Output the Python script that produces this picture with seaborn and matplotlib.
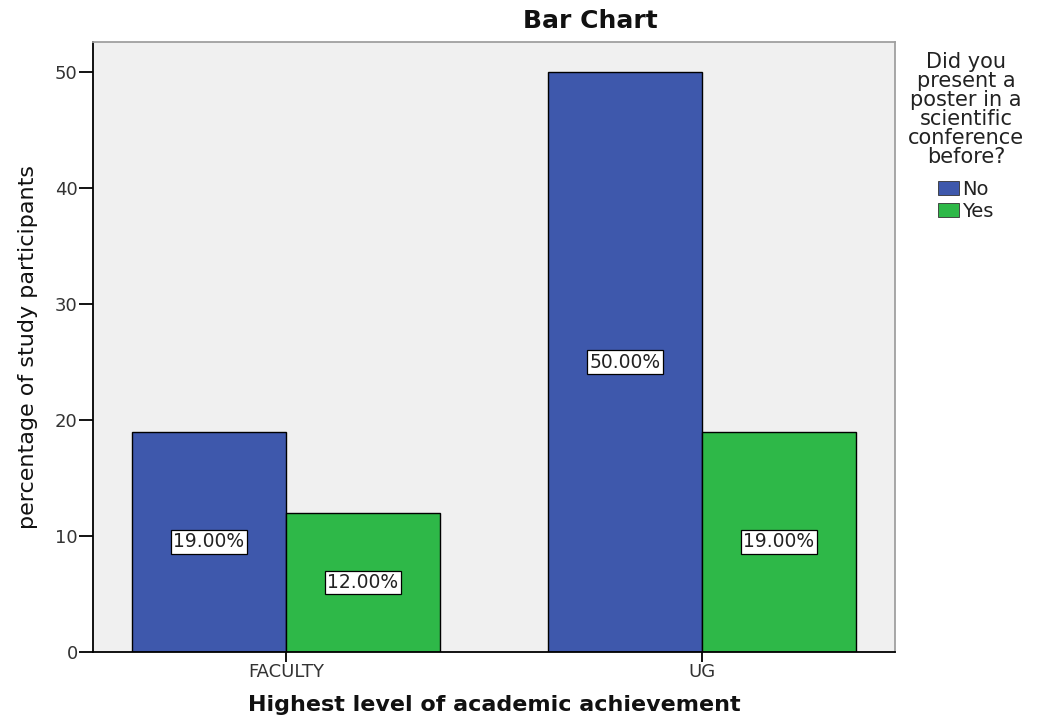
import matplotlib
matplotlib.use("Agg")
import matplotlib.pyplot as plt
import seaborn as sns
import pandas as pd

categories = ["FACULTY", "UG"]
no_values = [19.0, 50.0]
yes_values = [12.0, 19.0]
series_names = ["No", "Yes"]
y_ticks = [0, 10, 20, 30, 40, 50]

rows = []
for c, n, y in zip(categories, no_values, yes_values):
    rows.append({"cat": c, "ans": series_names[0], "val": n})
    rows.append({"cat": c, "ans": series_names[1], "val": y})
df = pd.DataFrame(rows)

sns.set_theme(style="white")
plt.rcParams["font.family"] = ["DejaVu Sans"]

W, H = 1039, 719
fig = plt.figure(figsize=(W / 100, H / 100), dpi=100)
ax = fig.add_axes([93 / W, 1 - 652 / H, (895 - 93) / W, (652 - 42) / H])
ax.set_facecolor("#F0F0F0")

palette = {"No": "#3E58AC", "Yes": "#2EB848"}
sns.barplot(data=df, x="cat", y="val", hue="ans", palette=palette,
            width=0.74, edgecolor="black", linewidth=1.0, saturation=1,
            ax=ax, legend=True)

ax.set_xlim(-0.464, 1.464)
ax.set_ylim(0, 52.6)
ax.set_yticks(y_ticks)
ax.set_yticklabels([str(t) for t in y_ticks], fontsize=13, color="#333333")
ax.set_xticks([0, 1])
ax.set_xticklabels(categories, fontsize=13, color="#333333")
ax.tick_params(axis="y", direction="out", length=10, width=1.3, color="black",
               left=True, pad=1)
ax.tick_params(axis="x", direction="out", length=7, width=1.3, color="black",
               bottom=True, pad=1)

for s in ["left", "bottom"]:
    ax.spines[s].set_color("black")
    ax.spines[s].set_linewidth(1.3)
for s in ["top", "right"]:
    ax.spines[s].set_color("#A0A0A0")
    ax.spines[s].set_linewidth(1.3)

for cont in ax.containers:
    labels = [f"{v:.2f}%" for v in cont.datavalues]
    ax.bar_label(cont, labels=labels, label_type="center", fontsize=13.5,
                 color="#222222",
                 bbox=dict(boxstyle="square,pad=0.12", facecolor="white",
                           edgecolor="black", linewidth=0.9))

fig.text(590 / W, 1 - 21 / H, "Bar Chart", fontsize=18, fontweight="bold",
         ha="center", va="center", color="#111111")
ax.set_xlabel("Highest level of academic achievement", fontsize=16,
              fontweight="bold", labelpad=10, color="#111111")
ax.set_ylabel("percentage of study participants", fontsize=16, labelpad=12,
              color="#111111")

leg = ax.legend(title="Did you\npresent a\nposter in a\nscientific\nconference\nbefore?",
                loc="upper center", bbox_to_anchor=(966 / W, 1 - 52 / H),
                bbox_transform=fig.transFigure, frameon=False,
                fontsize=14, title_fontsize=15, handlelength=1.05,
                handleheight=0.7, handletextpad=0.2, labelspacing=0.15,
                borderaxespad=0.0, borderpad=0.0)
leg._legend_box.sep = 9
leg.get_title().set_multialignment("center")
leg.get_title().set_linespacing(0.94)
leg.get_title().set_color("#222222")
for t in leg.get_texts():
    t.set_color("#222222")
for h in leg.legend_handles:
    h.set_edgecolor("#333333")
    h.set_linewidth(0.6)

fig.savefig("out.png", dpi=100)
